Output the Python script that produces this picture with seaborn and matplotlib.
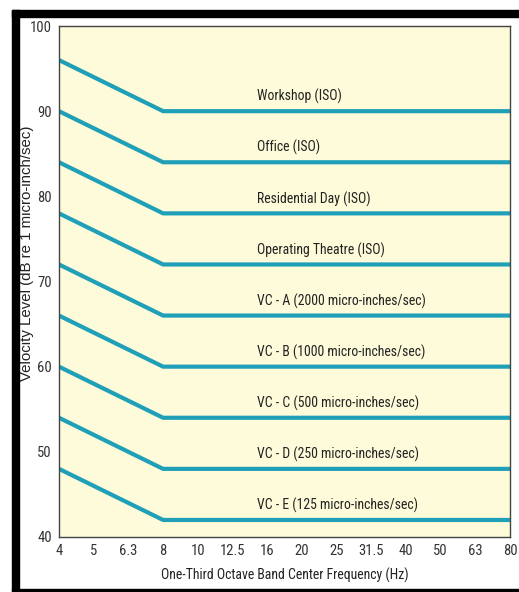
import matplotlib
matplotlib.use("Agg")
import matplotlib.pyplot as plt
from matplotlib import font_manager
from matplotlib.patches import Rectangle
import seaborn as sns
import pandas as pd

# One-third octave band centre frequencies shown on the x axis
freq_labels = ["4", "5", "6.3", "8", "10", "12.5", "16", "20", "25",
               "31.5", "40", "50", "63", "80"]

# Vibration criteria curves
criteria = ["Workshop (ISO)", "Office (ISO)", "Residential Day (ISO)",
            "Operating Theatre (ISO)",
            "VC - A (2000 micro-inches/sec)", "VC - B (1000 micro-inches/sec)",
            "VC - C (500 micro-inches/sec)", "VC - D (250 micro-inches/sec)",
            "VC - E (125 micro-inches/sec)"]
level_at_4hz = [96, 90, 84, 78, 72, 66, 60, 54, 48]     # dB at 4 Hz
level_flat = [90, 84, 78, 72, 66, 60, 54, 48, 42]       # dB from 8 Hz to 80 Hz
knee_freq = "8"

sns.set_theme(style="white")
available = {f.name for f in font_manager.fontManager.ttflist}


def first_available(names, default):
    for n in names:
        if n in available:
            return n
    return default


narrow = first_available(["Liberation Sans Narrow", "Arial Narrow", "Roboto Condensed",
                          "PT Sans Narrow", "Archivo Narrow"], "DejaVu Sans")
regular = first_available(["Liberation Sans", "Arimo"], "DejaVu Sans")
plt.rcParams["font.family"] = [narrow, "DejaVu Sans"]
if narrow == "DejaVu Sans":
    plt.rcParams["font.stretch"] = "condensed"

pos = {lab: i for i, lab in enumerate(freq_labels)}
rows = []
for name, y0, y1 in zip(criteria, level_at_4hz, level_flat):
    rows.append((name, pos[freq_labels[0]], y0))
    rows.append((name, pos[knee_freq], y1))
    rows.append((name, pos[freq_labels[-1]], y1))
df = pd.DataFrame(rows, columns=["criterion", "x", "level"])

line_color = "#20a0b8"
text_color = "#222222"
fig = plt.figure(figsize=(5.19, 5.92), dpi=100)
fig.patch.set_facecolor("white")
ax = fig.add_axes([59 / 519, 55 / 592, 451 / 519, 511 / 592])
ax.set_facecolor("#fdfbd9")

sns.lineplot(data=df, x="x", y="level", hue="criterion", units="criterion",
             estimator=None, palette=[line_color] * len(criteria),
             linewidth=3.0, legend=False, ax=ax, sort=False)

for name, y1 in zip(criteria, level_flat):
    ax.text(5.72, y1 + 0.8, name, fontsize=9.9, color=text_color,
            ha="left", va="bottom")

ax.set_xlim(0, len(freq_labels) - 1)
ax.set_ylim(40, 100)
ax.set_xticks(range(len(freq_labels)))
ax.set_xticklabels(freq_labels)
ax.set_yticks(range(40, 101, 10))
ax.tick_params(axis="both", length=0, labelsize=10.5, colors="#333333")
ax.tick_params(axis="x", pad=5)
ax.tick_params(axis="y", pad=5)
ax.set_xlabel("One-Third Octave Band Center Frequency (Hz)", fontsize=9.9,
              color=text_color)
ax.set_ylabel("Velocity Level (dB re 1 micro-inch/sec)", fontsize=10.8,
              color=text_color, family=[regular, "DejaVu Sans"])
ax.xaxis.set_label_coords(0.5, -31 / 511)
ax.yaxis.set_label_coords(-25 / 451, 0.555)
for sp in ax.spines.values():
    sp.set_visible(True)
    sp.set_color("#444444")
    sp.set_linewidth(1.0)

# Black frame around the figure (open on the right)
W, H = 519, 592
frame = dict(color="black", transform=fig.transFigure, zorder=10)
fig.patches.append(Rectangle((12 / W, 1 - 591 / H), 7 / W, (591 - 10) / H, **frame))
fig.patches.append(Rectangle((12 / W, 1 - 17 / H), (W - 12) / W, 7 / H, **frame))
fig.patches.append(Rectangle((12 / W, 1 - 591 / H), (W - 12) / W, 2.5 / H, **frame))

fig.savefig("out.png", dpi=100)
